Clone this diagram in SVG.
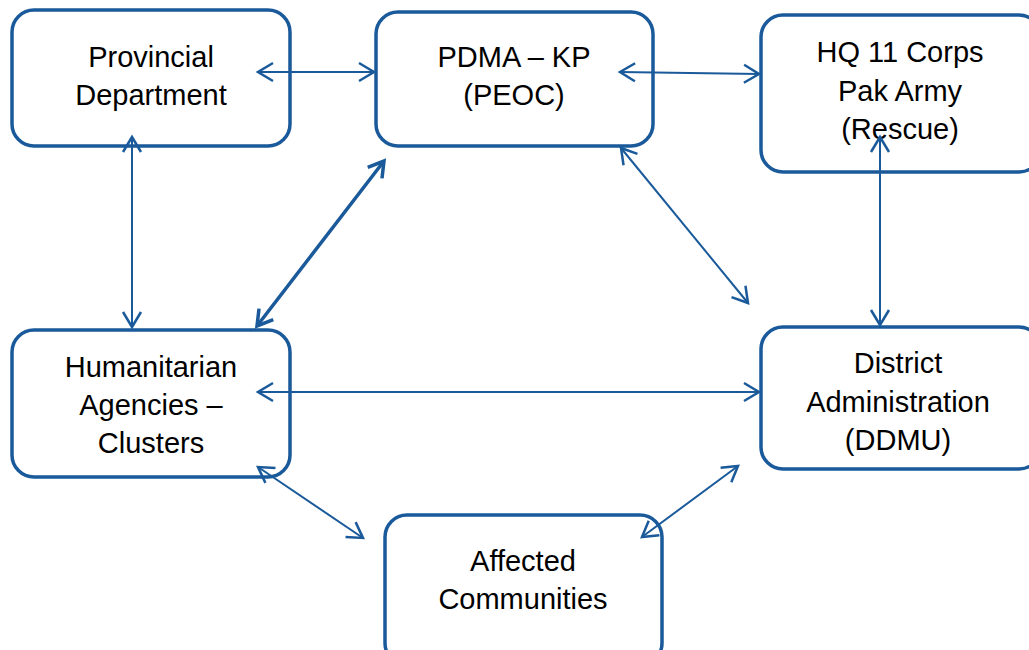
<svg xmlns="http://www.w3.org/2000/svg" width="1029" height="650" viewBox="0 0 1029 650">
<defs>
<style>
.box{fill:#fff;stroke:#1A5A9A;stroke-width:3.5}
.t{font-family:"Liberation Sans",Arial,sans-serif;font-size:29px;fill:#000;text-anchor:middle}
.c{stroke:#1A5A9A;stroke-width:2;fill:none;marker-start:url(#ah);marker-end:url(#ah)}
.ct{stroke:#1A5A9A;stroke-width:3.5;fill:none;marker-start:url(#ah2);marker-end:url(#ah2)}
</style>
<marker id="ah" markerUnits="userSpaceOnUse" viewBox="-20 -12 24 24" markerWidth="24" markerHeight="24" refX="0" refY="0" orient="auto-start-reverse">
<path d="M-15,-9 L0,0 L-15,9" fill="none" stroke="#1A5A9A" stroke-width="2.5"/>
</marker>
<marker id="ah2" markerUnits="userSpaceOnUse" viewBox="-20 -12 24 24" markerWidth="24" markerHeight="24" refX="0" refY="0" orient="auto-start-reverse">
<path d="M-15,-9 L0,0 L-15,9" fill="none" stroke="#1A5A9A" stroke-width="3.5"/>
</marker>
</defs>
<rect width="1029" height="650" fill="#fff"/>
<g id="provincial">
<rect class="box" x="12" y="10" width="278" height="136" rx="22"/>
<text class="t" x="151" y="67">Provincial</text>
<text class="t" x="151" y="105">Department</text>
</g>
<g id="pdma">
<rect class="box" x="376" y="12" width="277" height="134" rx="22"/>
<text class="t" x="514" y="67">PDMA – KP</text>
<text class="t" x="514" y="105">(PEOC)</text>
</g>
<g id="hq">
<rect class="box" x="761" y="15" width="280" height="157" rx="22"/>
<text class="t" x="900" y="62">HQ 11 Corps</text>
<text class="t" x="900" y="101">Pak Army</text>
<text class="t" x="900" y="139">(Rescue)</text>
</g>
<g id="humanitarian">
<rect class="box" x="12" y="330" width="278" height="147" rx="22"/>
<text class="t" x="151" y="377">Humanitarian</text>
<text class="t" x="151" y="415">Agencies –</text>
<text class="t" x="151" y="453">Clusters</text>
</g>
<g id="district">
<rect class="box" x="761" y="327" width="280" height="142" rx="22"/>
<text class="t" x="898" y="373">District</text>
<text class="t" x="898" y="412">Administration</text>
<text class="t" x="898" y="450">(DDMU)</text>
</g>
<g id="affected">
<rect class="box" x="385" y="515" width="277" height="150" rx="22"/>
<text class="t" x="523" y="571">Affected</text>
<text class="t" x="523" y="609">Communities</text>
</g>
<g id="connectors">
<line class="c" x1="258" y1="72" x2="374" y2="72"/>
<line class="c" x1="620" y1="72" x2="759" y2="74"/>
<line class="c" x1="132" y1="137" x2="132" y2="327"/>
<line class="ct" x1="384" y1="161" x2="257" y2="326"/>
<line class="c" x1="621" y1="148" x2="748" y2="303"/>
<line class="c" x1="880" y1="137" x2="880" y2="325"/>
<line class="c" x1="258" y1="392" x2="759" y2="392"/>
<line class="c" x1="258" y1="467" x2="363" y2="538"/>
<line class="c" x1="642" y1="537" x2="738" y2="466"/>
</g>
</svg>
